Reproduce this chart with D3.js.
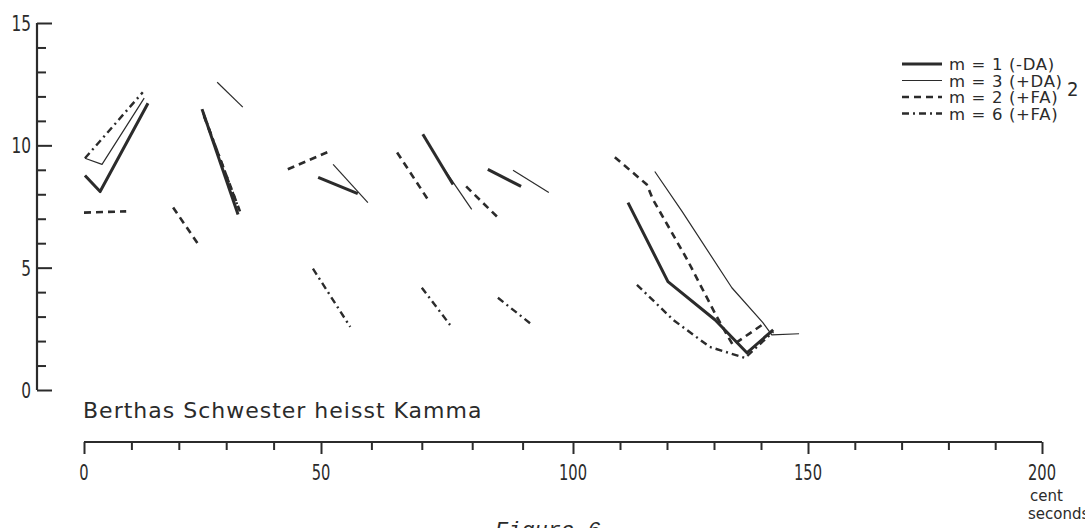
<!DOCTYPE html>
<html>
<head>
<meta charset="utf-8">
<script src="https://d3js.org/d3.v7.min.js"></script>
<style>
  body { margin: 0; background: #fff; }
  svg { display: block; }
  .lbl { font-family: "DejaVu Sans", sans-serif; fill: #2b2b2b; }
</style>
</head>
<body>
<div id="chart"></div>
<script>
// Figure 6 - segments (x: centiseconds, y: value)
const X_TICKS = [0, 50, 100, 150, 200];
const Y_TICKS = [0, 5, 10, 15];

// m = 1 (-DA)  thick solid
const M1_SEGMENTS = [
  [[0.2, 8.77], [3.4, 8.11], [13.5, 11.72]],
  [[24.9, 11.48], [32.5, 7.17]],
  [[49.4, 8.69], [57.3, 8.03]],
  [[70.2, 10.45], [76.2, 8.40]],
  [[83.1, 9.02], [89.7, 8.32]],
  [[111.7, 7.66], [120.2, 4.43], [130.2, 2.87], [137.0, 1.52], [142.6, 2.46]]
];
// m = 3 (+DA)  thin solid
const M3_SEGMENTS = [
  [[0.2, 9.47], [3.8, 9.22], [12.7, 11.93]],
  [[28.1, 12.58], [33.5, 11.56]],
  [[52.4, 9.22], [59.3, 7.66]],
  [[74.2, 9.10], [79.9, 7.38]],
  [[88.1, 8.98], [95.2, 8.07]],
  [[117.4, 8.93], [123.2, 7.30], [133.8, 4.18], [140.4, 2.75], [142.3, 2.25], [148.1, 2.30]]
];
// m = 2 (+FA)  dashed
const M2_SEGMENTS = [
  [[0.0, 7.25], [8.9, 7.30]],
  [[18.8, 7.46], [24.3, 5.90]],
  [[25.3, 11.2], [32.9, 7.3]],
  [[43.0, 9.02], [51.6, 9.75]],
  [[65.1, 9.71], [71.2, 7.79]],
  [[78.8, 8.32], [85.5, 6.97]],
  [[108.9, 9.51], [115.7, 8.40], [117.0, 7.79], [124.3, 5.33], [130.6, 2.99], [134.0, 1.84], [140.9, 2.75]]
];
// m = 6 (+FA)  dash-dot
const M6_SEGMENTS = [
  [[0.2, 9.47], [12.4, 12.17]],
  [[25.1, 11.35], [32.7, 7.38]],
  [[48.3, 4.96], [55.8, 2.58]],
  [[70.0, 4.18], [75.6, 2.66]],
  [[85.1, 3.77], [91.9, 2.66]],
  [[113.6, 4.30], [121.3, 2.87], [129.1, 1.76], [136.6, 1.31], [142.6, 2.38]]
];

const LEGEND_LABELS = ["m = 1 (-DA)", "m = 3 (+DA)", "m = 2 (+FA)", "m = 6 (+FA)"];

const WIDTH = 1085, HEIGHT = 528;
const INK = "#2b2b2b";

const svg = d3.select("#chart").append("svg")
    .attr("width", WIDTH)
    .attr("height", HEIGHT);

// narrow, tall lettering like the hand lettering of the original
function label(x, y, txt, size, sx, anchor) {
  return svg.append("text")
      .attr("class", "lbl")
      .attr("transform", "translate(" + x + "," + y + ") scale(" + sx + ",1)")
      .attr("text-anchor", anchor || "start")
      .attr("font-size", size + "px")
      .text(txt);
}

// hand drawn axis is a bit uneven, so the scale is piecewise
const X_SCALE = d3.scaleLinear()
    .domain([0, 50, 100, 150, 200])
    .range([84, 321, 573, 808, 1042]);
const Y_SCALE = d3.scaleLinear()
    .domain([0, 15])
    .range([390, 23]);

const AXIS_Y = 442;
const AXIS_X = 37;

// x axis
const xAxis = svg.append("g")
    .attr("transform", "translate(0," + AXIS_Y + ")")
    .call(d3.axisBottom(X_SCALE)
        .tickValues(d3.range(0, 201, 10))
        .tickSize(0)
        .tickFormat(""));
xAxis.select(".domain").remove();
xAxis.append("line")
    .attr("x1", X_SCALE(0)).attr("x2", X_SCALE(200))
    .attr("stroke", INK).attr("stroke-width", 2.2);
xAxis.selectAll(".tick line")
    .attr("y2", (d) => { return d % 50 === 0 ? 12 : 8; })
    .attr("stroke", INK).attr("stroke-width", 2);
X_TICKS.forEach((d) => {
  label(X_SCALE(d), 480, d, 21, 0.7, "middle");
});

// y axis
const yAxis = svg.append("g")
    .attr("transform", "translate(" + AXIS_X + ",0)")
    .call(d3.axisRight(Y_SCALE)
        .tickValues(d3.range(0, 16, 1))
        .tickSize(0)
        .tickFormat(""));
yAxis.select(".domain").remove();
yAxis.append("line")
    .attr("y1", Y_SCALE(0)).attr("y2", Y_SCALE(15))
    .attr("stroke", INK).attr("stroke-width", 2.2);
yAxis.selectAll(".tick line")
    .attr("x2", (d) => { return d % 5 === 0 ? 15 : 9; })
    .attr("stroke", INK).attr("stroke-width", 2);
Y_TICKS.forEach((d) => {
  label(31, Y_SCALE(d) + 8, d, 22, 0.7, "end");
});

// line styles per series
const STYLES = [
  {segs: M1_SEGMENTS, width: 3, dash: null},
  {segs: M3_SEGMENTS, width: 1.2, dash: null},
  {segs: M2_SEGMENTS, width: 2.6, dash: "7,5"},
  {segs: M6_SEGMENTS, width: 2.4, dash: "7,4,2,4"}
];

const line = d3.line()
    .x((d) => { return X_SCALE(d[0]); })
    .y((d) => { return Y_SCALE(d[1]); });

STYLES.forEach((s, i) => {
  svg.append("g")
      .selectAll("path")
      .data(s.segs)
      .enter()
      .append("path")
        .attr("d", line)
        .attr("fill", "none")
        .attr("stroke", INK)
        .attr("stroke-width", s.width)
        .attr("stroke-dasharray", s.dash)
        .attr("stroke-linejoin", "round")
        .attr("class", "series" + i);
});

// legend
STYLES.forEach((s, i) => {
  const y = 64 + i * 16.5;
  svg.append("line")
      .attr("x1", 902).attr("x2", 942)
      .attr("y1", y).attr("y2", y)
      .attr("stroke", INK)
      .attr("stroke-width", s.width)
      .attr("stroke-dasharray", s.dash);
  label(949, y + 6, LEGEND_LABELS[i], 15, 1.1, "start")
      .attr("letter-spacing", "0.6px");
});
label(1067, 96, "2", 20, 0.9, "start");

// handwritten note and titles
label(83, 418, "Berthas Schwester heisst Kamma", 22, 1, "start")
    .attr("letter-spacing", "1px");

label(1030, 501, "cent", 15, 1, "start");
label(1028, 519, "seconds", 15, 1, "start");

svg.append("text")
    .attr("x", 495)
    .attr("y", 537)
    .attr("font-family", "Liberation Mono, DejaVu Sans Mono, monospace")
    .attr("font-style", "italic")
    .attr("font-size", "22px")
    .attr("fill", INK)
    .text("Figure 6");
</script>
</body>
</html>
